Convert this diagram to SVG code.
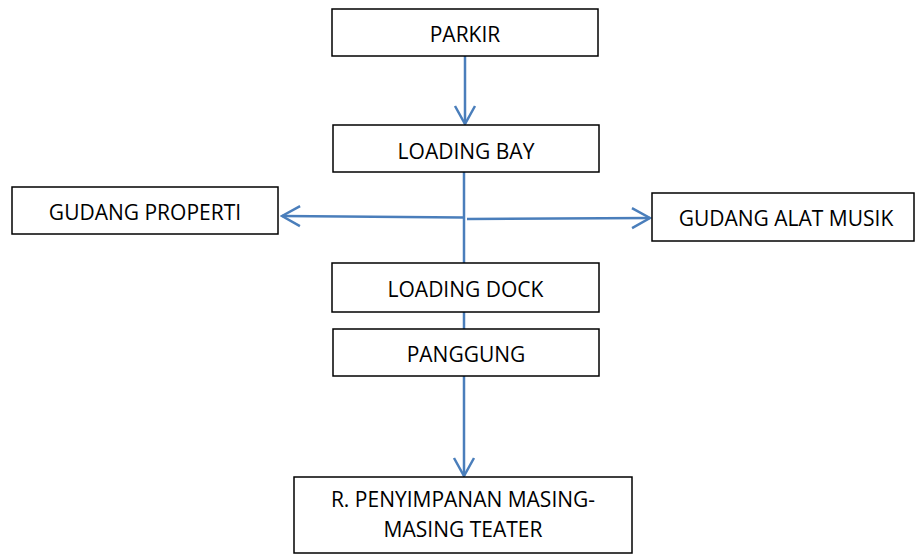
<svg xmlns="http://www.w3.org/2000/svg" width="915" height="554" viewBox="0 0 915 554">
<style>
.box{fill:#fff;stroke:#000;stroke-width:1.5}
.lbl{font-family:"Open Sans","Liberation Sans",sans-serif;font-size:21px;fill:#000;text-anchor:middle}
.con{fill:none;stroke:#4A7EBB;stroke-width:2.5}
</style>
<defs>
<marker id="ah" markerUnits="userSpaceOnUse" viewBox="-22 -13 24 26" markerWidth="24" markerHeight="26" refX="0" refY="0" orient="auto">
<path d="M-18,-10 L0,0 L-18,10" fill="none" stroke="#4A7EBB" stroke-width="2.5"/>
</marker>
</defs>
<rect width="915" height="554" fill="#fff"/>
<g id="connectors">
<line class="con" x1="465" y1="56" x2="465" y2="124" marker-end="url(#ah)"/>
<line class="con" x1="464" y1="172" x2="464" y2="263"/>
<line class="con" x1="463" y1="217.5" x2="282" y2="216" marker-end="url(#ah)"/>
<line class="con" x1="467" y1="219" x2="650" y2="218" marker-end="url(#ah)"/>
<line class="con" x1="464" y1="312" x2="464" y2="329"/>
<line class="con" x1="464" y1="376" x2="464" y2="476" marker-end="url(#ah)"/>
</g>
<g id="parkir">
<rect class="box" x="332" y="9" width="266" height="47"/>
<text class="lbl" x="465" y="42">PARKIR</text>
</g>
<g id="loading-bay">
<rect class="box" x="333" y="125" width="266" height="47"/>
<text class="lbl" x="466" y="158.5">LOADING BAY</text>
</g>
<g id="gudang-properti">
<rect class="box" x="12" y="187" width="266" height="47"/>
<text class="lbl" x="145" y="220">GUDANG PROPERTI</text>
</g>
<g id="gudang-alat-musik">
<rect class="box" x="652" y="193" width="262" height="48"/>
<text class="lbl" x="786" y="225.5">GUDANG ALAT MUSIK</text>
</g>
<g id="loading-dock">
<rect class="box" x="332" y="263" width="267" height="49"/>
<text class="lbl" x="465.5" y="296.5">LOADING DOCK</text>
</g>
<g id="panggung">
<rect class="box" x="333" y="329" width="266" height="47"/>
<text class="lbl" x="466" y="361.5">PANGGUNG</text>
</g>
<g id="r-penyimpanan">
<rect class="box" x="294" y="477" width="338" height="76"/>
<text class="lbl" x="463" y="507">R. PENYIMPANAN MASING-</text>
<text class="lbl" x="463" y="536.5">MASING TEATER</text>
</g>
</svg>
